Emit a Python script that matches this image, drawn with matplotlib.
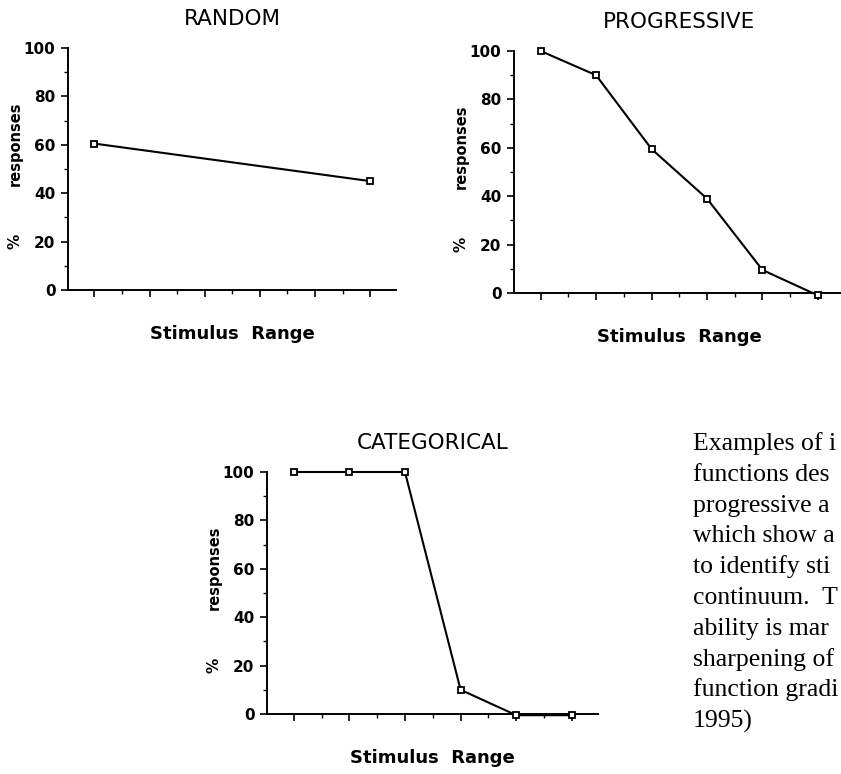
import matplotlib
matplotlib.use('Agg')
import matplotlib.pyplot as plt
from matplotlib.ticker import MultipleLocator

# identification functions (% responses per stimulus step)
random_x = [1, 6]
random_y = [60.5, 45]
prog_x = [1, 2, 3, 4, 5, 6]
prog_y = [100, 90, 59.5, 39, 9.5, -1]
cat_x = [1, 2, 3, 4, 5, 6]
cat_y = [100, 100, 100, 10, -0.5, -0.5]

titles = ['RANDOM', 'PROGRESSIVE', 'CATEGORICAL']
y_ticks = [0, 20, 40, 60, 80, 100]

# caption as far as it is visible before the page edge
caption = ['Examples of i', 'functions des', 'progressive a', 'which show a',
           'to identify sti', 'continuum.  T', 'ability is mar', 'sharpening of',
           'function gradi', '1995)']

W, H = 841, 774
fig = plt.figure(figsize=(W / 100, H / 100), dpi=100)
fig.patch.set_facecolor('white')


def rect(l, t, r, b):
    return [l / W, 1 - b / H, (r - l) / W, (b - t) / H]


def panel(box, x, y, title):
    ax = fig.add_axes(rect(*box))
    w_px = box[2] - box[0]
    h_px = box[3] - box[1]
    ax.plot(x, y, color='black', lw=1.5, marker='s', ms=5,
            mfc='white', mec='black', mew=1.3, clip_on=False, zorder=3)
    ax.spines['top'].set_visible(False)
    ax.spines['right'].set_visible(False)
    ax.spines['left'].set_linewidth(1.4)
    ax.spines['bottom'].set_linewidth(1.4)
    ax.set_yticks(y_ticks)
    ax.yaxis.set_minor_locator(MultipleLocator(10))
    ax.xaxis.set_major_locator(MultipleLocator(1))
    ax.xaxis.set_minor_locator(MultipleLocator(0.5))
    ax.xaxis.set_major_formatter(plt.NullFormatter())
    ax.set_xlim(0.52, 6.47)
    ax.set_ylim(0, 100)
    ax.tick_params(axis='both', which='major', direction='out', length=5, width=1.2, pad=4)
    ax.tick_params(axis='both', which='minor', direction='out', length=3, width=1.0)
    for lab in ax.get_yticklabels():
        lab.set_fontweight('bold')
        lab.set_fontsize(11)

    ax.text(0.5, 1 + 29 / h_px, title, transform=ax.transAxes,
            ha='center', va='center', fontsize=15.5)
    ax.text(0.5, -44 / h_px, 'Stimulus  Range', transform=ax.transAxes,
            ha='center', va='center', fontsize=13, fontweight='bold')
    ax.text(-53 / w_px, 0.605, 'responses', transform=ax.transAxes, rotation=90,
            ha='center', va='center', fontsize=10.5, fontweight='bold')
    ax.text(-53 / w_px, 0.2, '%', transform=ax.transAxes, rotation=90,
            ha='center', va='center', fontsize=11, fontweight='bold')
    return ax


panel((68, 48, 396, 290), random_x, random_y, titles[0])
panel((514, 51, 844, 293), prog_x, prog_y, titles[1])
panel((267, 472, 598, 714), cat_x, cat_y, titles[2])

for i, line in enumerate(caption):
    fig.text(693 / W, 1 - (450 + i * 30.8) / H, line, family='Liberation Serif',
             fontsize=18.5, ha='left', va='baseline')

fig.savefig('out.png', dpi=100, facecolor='white')
